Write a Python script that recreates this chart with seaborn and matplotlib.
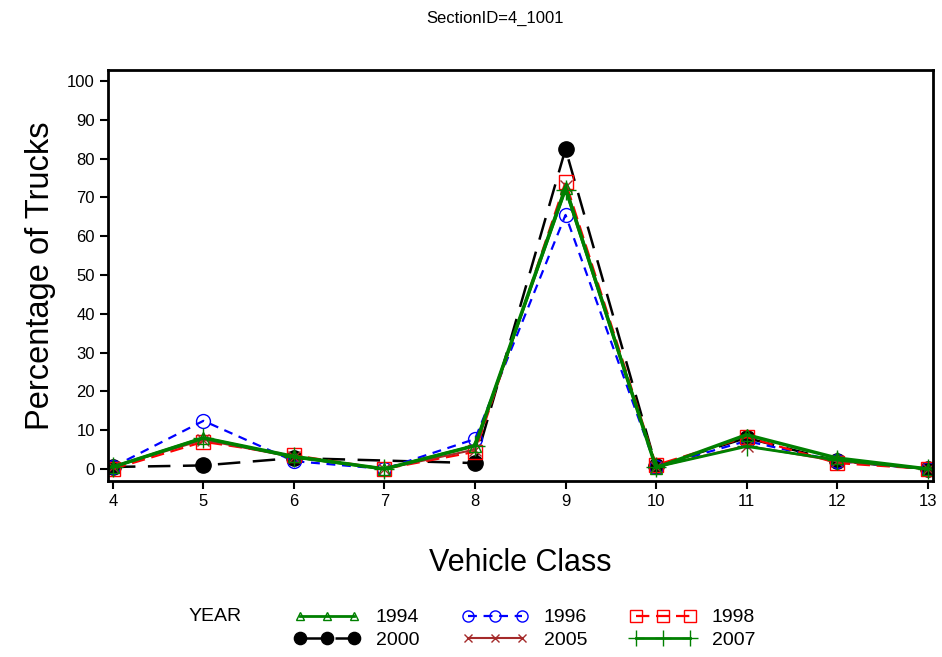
import numpy as np
import pandas as pd
import seaborn as sns
import matplotlib.pyplot as plt
from matplotlib.lines import Line2D

# vehicle classes and percentage of trucks per year (nan = no value)
classes = [4, 5, 6, 7, 8, 9, 10, 11, 12, 13]
pct_1994 = [0.5, 8.0, 3.2, 0.0, 6.0, 72.5, 0.3, 8.8, 2.8, 0.0]
pct_1996 = [0.5, 12.4, 2.0, 0.0, 7.7, 65.5, 0.5, 7.2, 2.0, 0.0]
pct_1998 = [0.0, 7.0, 3.5, 0.0, 4.4, 74.0, 1.0, 8.2, 1.5, 0.0]
pct_2000 = [0.5, 0.9, 2.8, np.nan, 1.5, 82.5, 0.7, 8.0, 2.0, 0.0]
pct_2005 = [0.5, 7.5, 3.0, 0.0, 5.0, 73.0, 0.5, 6.0, 2.0, 0.0]
pct_2007 = [0.5, 8.0, 3.0, 0.0, 6.0, 72.0, 0.5, 5.8, 2.3, 0.0]

years = ["1994", "1996", "1998", "2000", "2005", "2007"]
values = [pct_1994, pct_1996, pct_1998, pct_2000, pct_2005, pct_2007]

df = pd.concat([pd.DataFrame({"cls": classes, "pct": v, "YEAR": y})
                for y, v in zip(years, values)]).dropna()

plt.rcParams['font.family'] = ['Liberation Sans', 'DejaVu Sans']

# per-year style: color, marker, marker fill, dashes, line width
styles = {
    "1994": dict(color="green", marker="^", mfc="none", ls="-", lw=2.5, ms=8),
    "1996": dict(color="blue", marker="o", mfc="none", ls=(0, (4, 3)), lw=1.6, ms=10),
    "1998": dict(color="red", marker="s", mfc="none", ls=(0, (6, 3)), lw=1.6, ms=10),
    "2000": dict(color="black", marker="o", mfc="black", ls=(0, (9, 5)), lw=1.8, ms=11),
    "2005": dict(color="brown", marker="x", mfc="none", ls="-", lw=1.5, ms=8),
    "2007": dict(color="green", marker="+", mfc="none", ls="-", lw=2.0, ms=14),
}
order = ["2000", "1996", "1998", "2005", "1994", "2007"]

fig = plt.figure(figsize=(9.42, 6.57), dpi=100)
ax = fig.add_axes([0.1146, 0.268, 0.8754, 0.625])

for y in order:
    s = styles[y]
    sns.lineplot(data=df[df["YEAR"] == y], x="cls", y="pct", ax=ax,
                 color=s["color"], marker=s["marker"], markerfacecolor=s["mfc"],
                 markeredgecolor=s["color"], markersize=s["ms"], linestyle=s["ls"],
                 linewidth=s["lw"], markeredgewidth=1.0, legend=False)

ax.set_xlim(3.945, 13.055)
ax.set_ylim(-3.1, 102.8)
ax.set_xticks(classes)
ax.set_yticks(range(0, 101, 10))
ax.tick_params(labelsize=12, length=6, width=1.5)
for sp in ax.spines.values():
    sp.set_linewidth(2)
ax.set_xlabel("Vehicle Class", fontsize=22, labelpad=28)
ax.set_ylabel("Percentage of Trucks", fontsize=23.5, labelpad=8)
fig.text(0.525, 0.972, "SectionID=4_1001", ha="center", va="center", fontsize=12)

# legend: rows 1994/1996/1998 and 2000/2005/2007
leg_years = ["1994", "2000", "1996", "2005", "1998", "2007"]
handles = []
for y in leg_years:
    s = styles[y]
    handles.append(Line2D([], [], color=s["color"], marker=s["marker"],
                          markerfacecolor=s["mfc"], markeredgecolor=s["color"],
                          markersize=s["ms"] * 0.8, linestyle=s["ls"],
                          linewidth=min(s["lw"], 2.0)))
fig.legend(handles, leg_years, ncol=3, loc="center", bbox_to_anchor=(0.557, 0.043),
           frameon=False, fontsize=14, numpoints=3, handlelength=3.4,
           handletextpad=0.8, columnspacing=2.2, labelspacing=0.25)
fig.text(0.2, 0.061, "YEAR", ha="left", va="center", fontsize=14)

fig.savefig("out.png", dpi=100)
